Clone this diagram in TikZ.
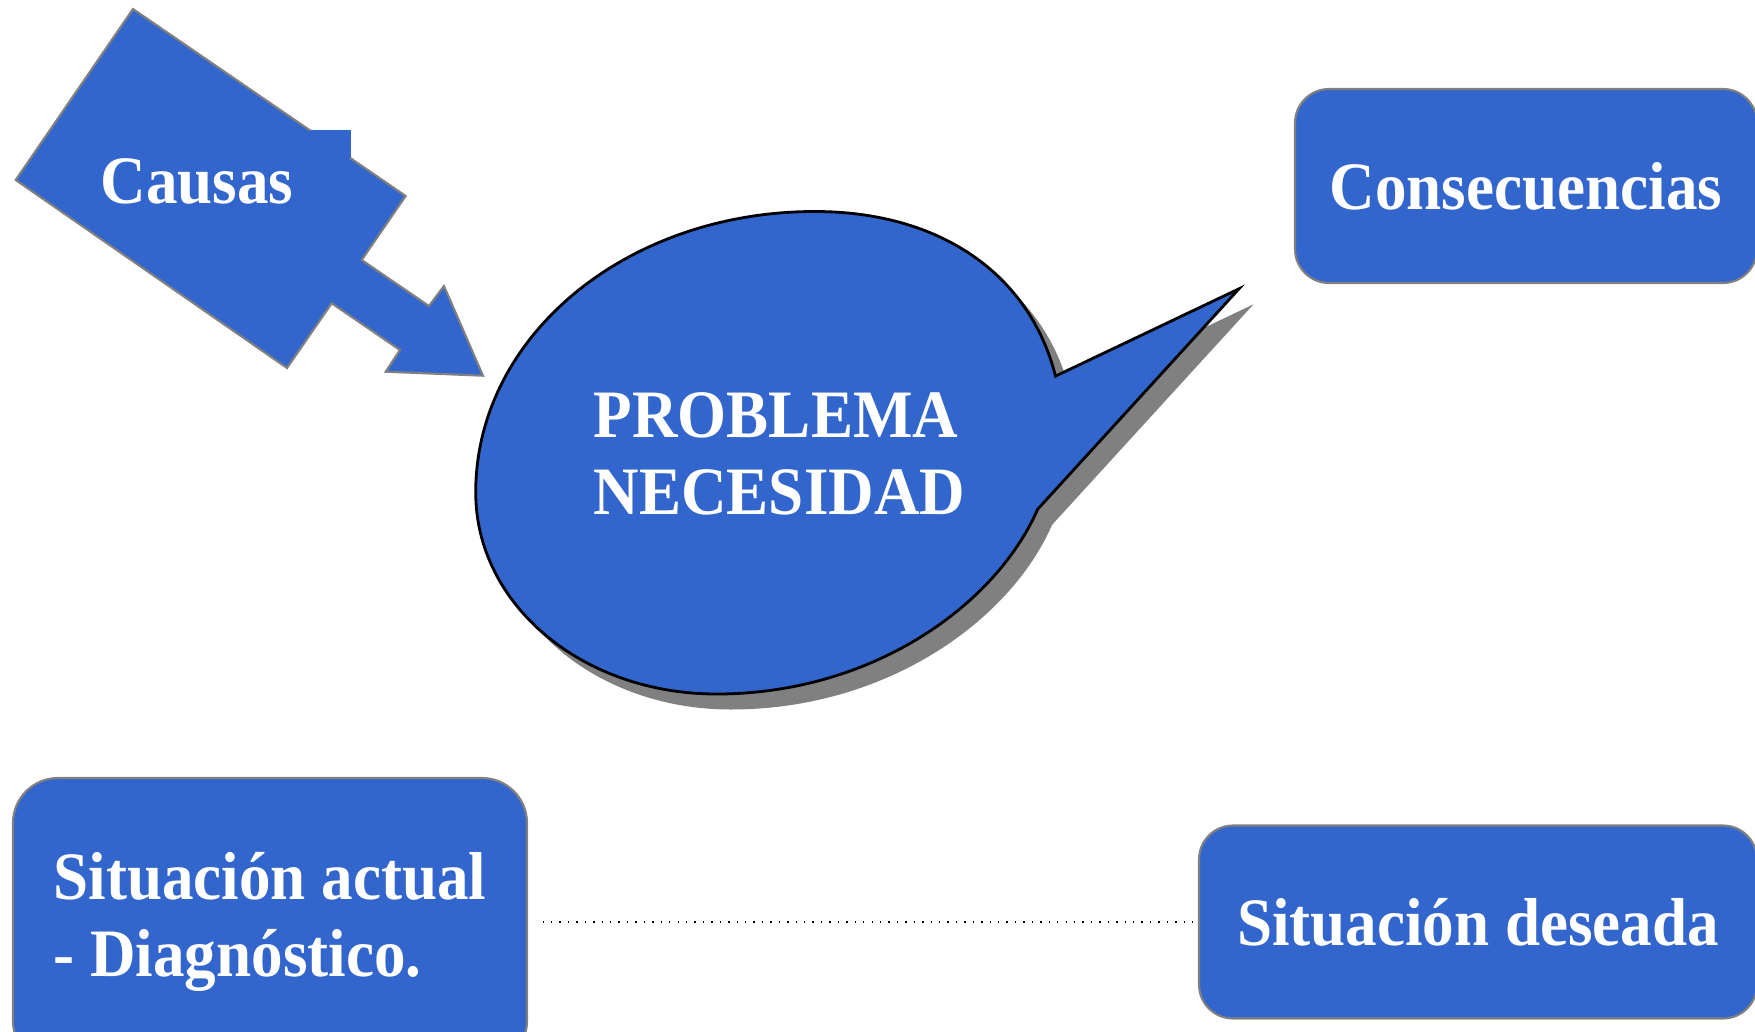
\documentclass[tikz,border=0pt]{standalone}
\usepackage{fontspec}
\setmainfont[FakeStretch=0.93]{Liberation Serif}
\usetikzlibrary{positioning}
\definecolor{azulcaja}{RGB}{51,102,204}
\definecolor{grisborde}{RGB}{128,128,128}
\definecolor{grissombra}{RGB}{128,128,128}
\newcommand{\globopath}{(1055.5,376.1) -- (1239,288.8) -- (1037.6,509.3)
  .. controls (996.2,604.4) and (873,694) .. (716.4,694)
  .. controls (582,694) and (475.7,604.4) .. (475.7,492.5)
  .. controls (475.7,335.8) and (626.8,211.5) .. (814.9,211.5)
  .. controls (940.2,211.5) and (1029.8,274.2) .. (1055.5,376.1) -- cycle}

\begin{document}
\begin{tikzpicture}[x=0.1mm, y=-0.1mm,
    every node/.style={font=\fontsize{19.3}{22}\selectfont\bfseries, text=white},
    caja/.style={rectangle, rounded corners=3.4mm, draw=grisborde, line width=0.6pt, fill=azulcaja, inner sep=0pt, align=center}]
    \useasboundingbox (0,0) rectangle (1755,1032);
    \clip (0,0) rectangle (1755,1032);

    % Causas arrow
    \draw[grisborde, line width=0.6pt, fill=azulcaja] (133,9) -- (405.7,196) -- (361.7,260) -- (429,306) -- (444,286) -- (483,375.7) -- (385.7,371.7) -- (400,350) -- (331.7,303.3) -- (287,368) -- (15.7,180) -- cycle;
    \fill[azulcaja] (310,130) rectangle (351,158);
    \node (causas) at (197,181) {Causas};

    % Speech bubble
    \fill[grissombra, shift={(14.5,15.5)}] \globopath;
    \draw[black, line width=0.8pt, fill=azulcaja] \globopath;
    \node[anchor=north west, inner sep=0pt, align=left] (problema) at (593,391.8) {PROBLEMA\\NECESIDAD};

    % Boxes
    \node[caja, minimum width=46.2mm, minimum height=19.4mm] (consec) at (1526,186) {Consecuencias};
    \node[caja, rounded corners=4.5mm, minimum width=51.4mm, minimum height=28.8mm, align=left] (actual) at (270,922) {Situación actual\\- Diagnóstico.};
    \node[caja, minimum width=55.8mm, minimum height=19.3mm] (deseada) at (1478,922) {Situación deseada};

    % Link
    \draw[dotted, black, line width=0.4pt, shorten <=1.45mm] (actual.east |- deseada.west) -- (deseada.west);
\end{tikzpicture}
\end{document}
